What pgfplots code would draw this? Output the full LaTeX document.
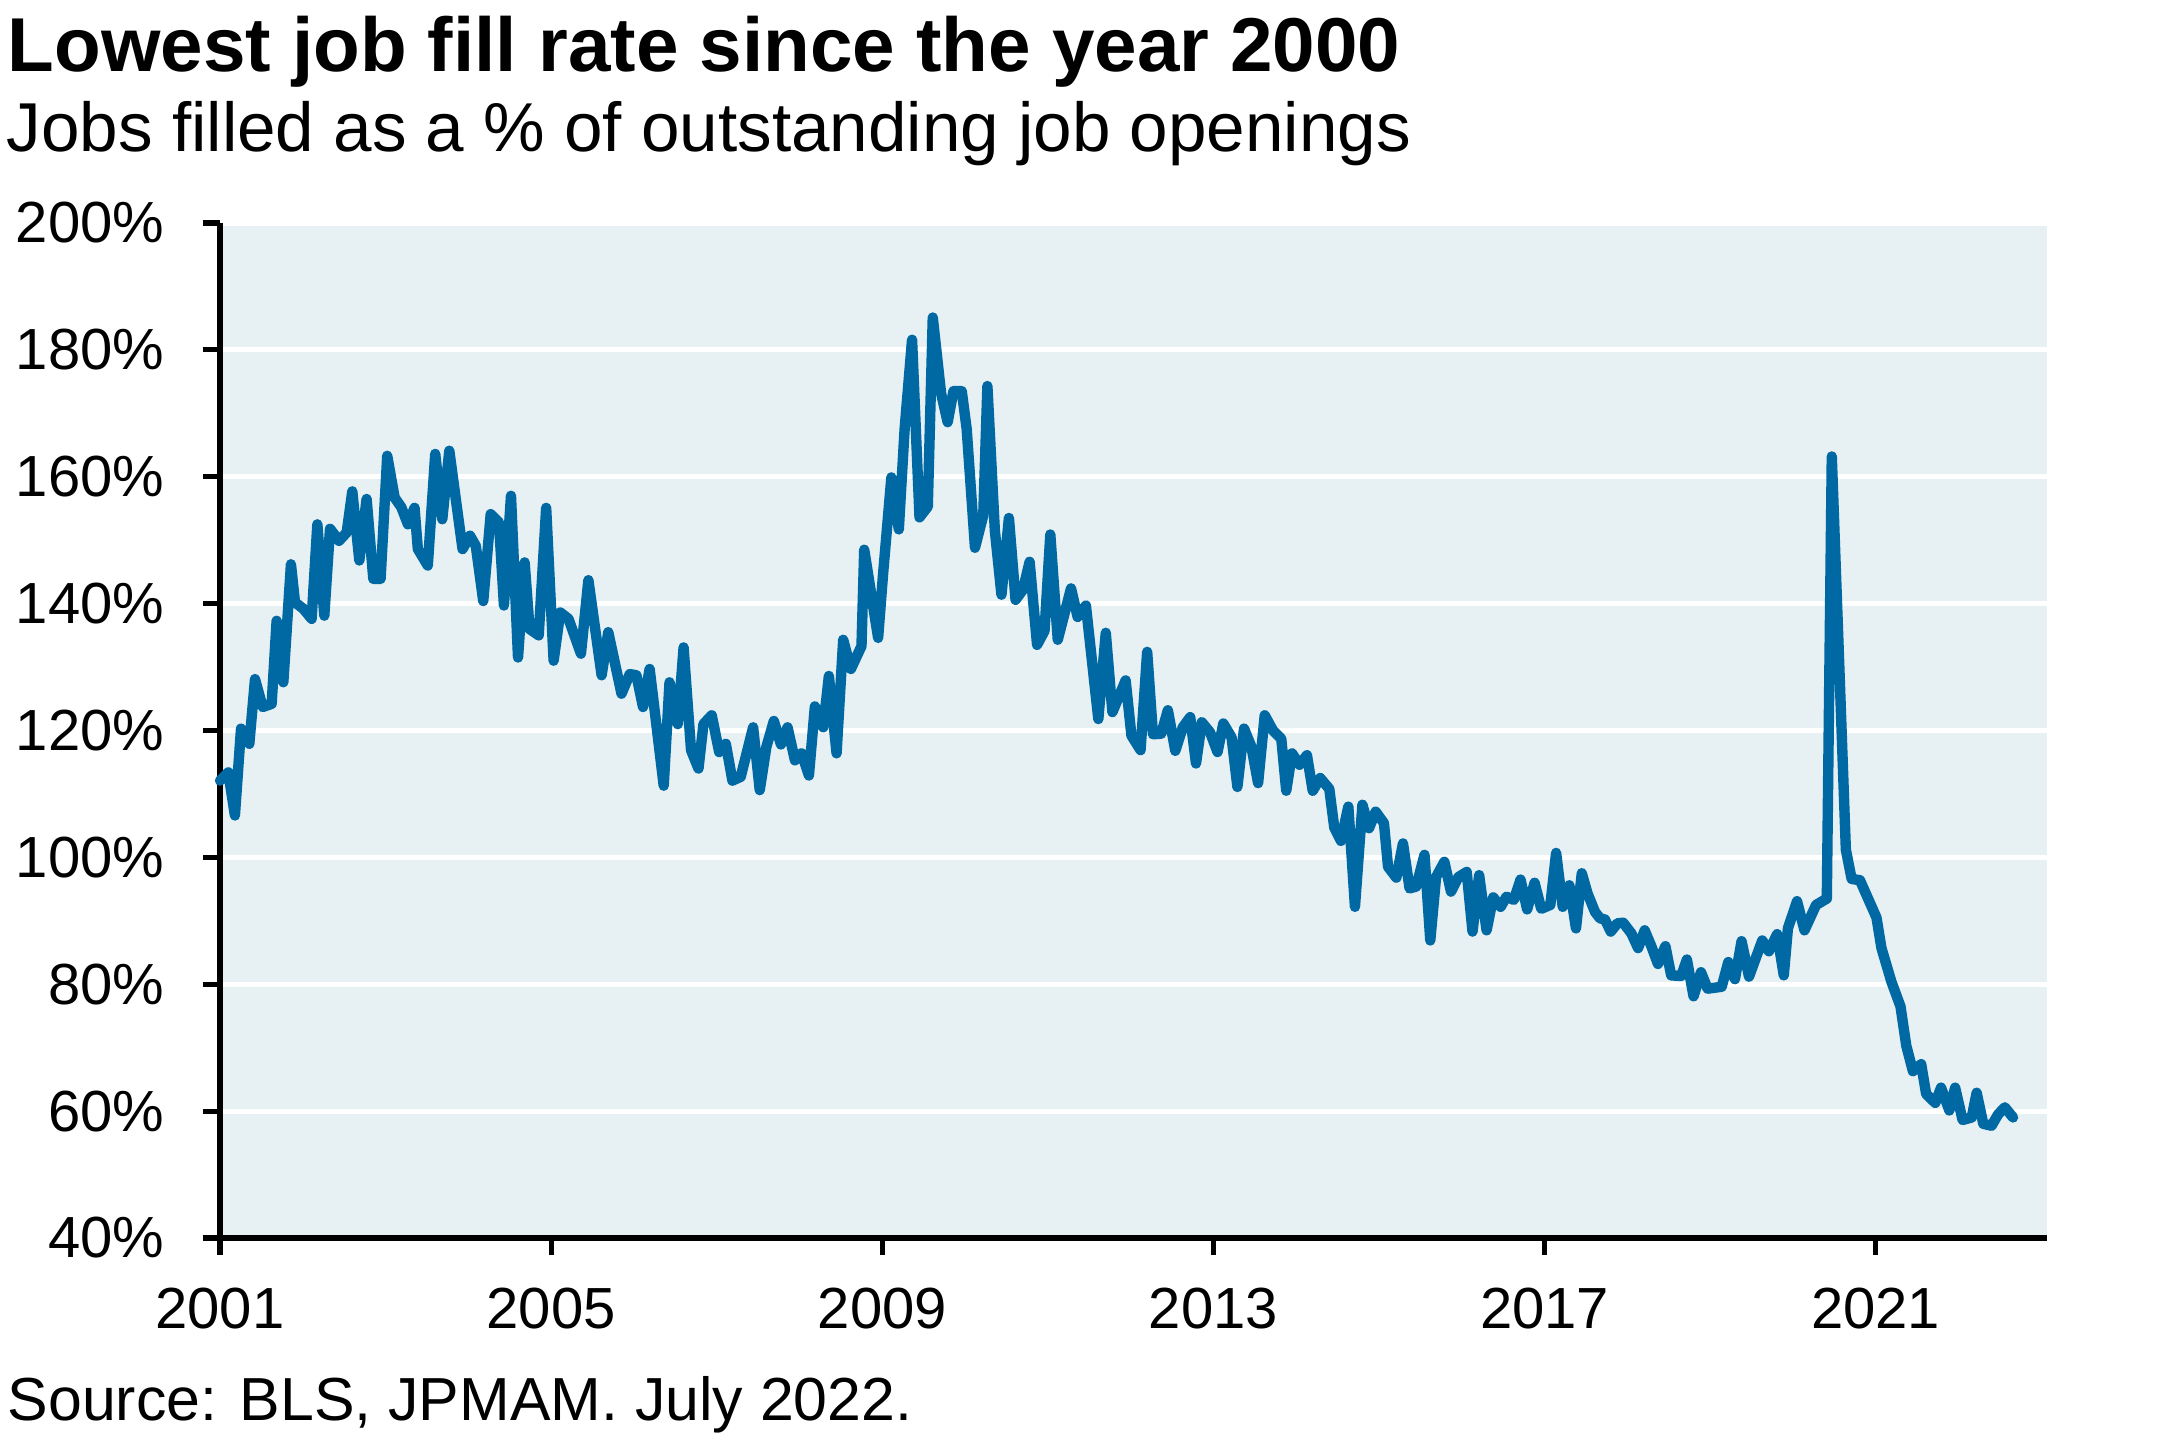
\documentclass[border=0pt]{standalone}
\usepackage{pgfplots}
\pgfplotsset{compat=1.18}
\usepackage{fontspec}
\setmainfont{Liberation Sans}

\definecolor{jpblue}{RGB}{0,104,163}
\definecolor{panel}{RGB}{231,240,243}

\begin{document}
\begin{tikzpicture}
\useasboundingbox (-55bp,-50.5bp) rectangle (485.5bp,309.5bp);
\begin{axis}[
    at={(0,0)}, anchor=origin,
    scale only axis,
    width=456.75bp, height=253.75bp,
    xmin=2001, xmax=2023.07,
    ymin=40, ymax=200,
    axis x line=bottom, axis y line=left,
    axis line style={line width=1.3bp, black, -},
    axis background/.style={fill=panel},
    ymajorgrids,
    grid style={white, line width=1.3bp},
    xtick={2001,2005,2009,2013,2017,2021},
    xticklabels={2001,2005,2009,2013,2017,2021},
    ytick={40,60,...,200},
    yticklabel={\pgfmathprintnumber{\tick}\%},
    /pgf/number format/assume math mode=true,
    tick align=outside,
    major tick length=4.25bp,
    tick style={line width=1.3bp, black},
    ticklabel style={font=\fontsize{14.5bp}{17bp}\selectfont, inner sep=0pt},
    yticklabel style={anchor=east, xshift=-9.5bp},
    xticklabel style={anchor=north, yshift=-8bp},
    clip=false,
]
\addplot[jpblue, line width=2.6bp, line join=round, line cap=round] coordinates {
(2001.00,112.1) (2001.10,113.4) (2001.18,106.6) (2001.254,120.3) (2001.354,117.9)
(2001.423,128.1) (2001.515,123.7) (2001.624,124.2) (2001.684,137.3) (2001.765,127.6)
(2001.857,146.2) (2001.906,140.2) (2002.006,139.2) (2002.107,137.6) (2002.176,152.5)
(2002.26,138.1) (2002.329,151.8) (2002.437,149.9) (2002.53,151.2) (2002.598,157.7)
(2002.683,146.8) (2002.771,156.5) (2002.852,143.9) (2002.94,143.9) (2003.02,163.3)
(2003.11,156.7) (2003.19,155.2) (2003.27,152.5) (2003.35,155.1) (2003.39,148.6)
(2003.51,146.0) (2003.60,163.6) (2003.685,153.3) (2003.77,164.1) (2003.846,156.7)
(2003.93,148.6) (2004.02,150.7) (2004.09,149.1) (2004.18,140.4) (2004.27,154.1)
(2004.37,152.8) (2004.43,139.7) (2004.515,157.0) (2004.60,131.5) (2004.68,146.5)
(2004.74,136.0) (2004.85,135.0) (2004.94,155.1) (2005.03,131.0) (2005.11,138.6)
(2005.21,137.6) (2005.36,132.1) (2005.45,143.7) (2005.61,128.7) (2005.69,135.5)
(2005.85,125.8) (2005.95,128.9) (2006.03,128.7) (2006.11,123.7) (2006.19,129.7)
(2006.36,111.3) (2006.43,127.6) (2006.53,121.0) (2006.60,133.1) (2006.69,116.9)
(2006.78,114.0) (2006.84,121.0) (2006.94,122.4) (2007.03,116.6) (2007.11,117.9)
(2007.19,112.1) (2007.29,112.7) (2007.44,120.5) (2007.52,110.6) (2007.60,117.4)
(2007.69,121.5) (2007.776,117.8) (2007.856,120.5) (2007.945,115.3) (2008.025,116.4)
(2008.114,112.9) (2008.186,123.8) (2008.287,120.5) (2008.355,128.6) (2008.448,116.4)
(2008.528,134.3) (2008.621,129.7) (2008.749,133.3) (2008.782,148.5) (2008.95,134.6)
(2009.01,144.7) (2009.11,159.9) (2009.20,151.7) (2009.27,167.5) (2009.36,181.6)
(2009.45,153.6) (2009.55,155.3) (2009.61,185.1) (2009.71,173.2) (2009.79,168.6)
(2009.86,173.5) (2009.96,173.5) (2010.02,167.5) (2010.12,148.8) (2010.22,153.9)
(2010.27,174.3) (2010.36,151.5) (2010.44,141.4) (2010.53,153.5) (2010.61,140.6)
(2010.70,142.2) (2010.78,146.6) (2010.87,133.5) (2010.96,135.7) (2011.03,150.9)
(2011.12,134.3) (2011.28,142.4) (2011.36,137.9) (2011.46,139.7) (2011.61,121.8)
(2011.70,135.4) (2011.78,122.9) (2011.94,127.9) (2012.01,119.2) (2012.12,116.9)
(2012.20,132.4) (2012.27,119.4) (2012.37,119.5) (2012.45,123.2) (2012.54,116.8)
(2012.63,120.5) (2012.72,122.1) (2012.79,114.8) (2012.86,121.3) (2012.96,119.7)
(2013.05,116.6) (2013.12,121.1) (2013.22,118.9) (2013.29,111.1) (2013.37,120.3)
(2013.46,117.4) (2013.54,111.7) (2013.62,122.4) (2013.72,120.0) (2013.82,118.7)
(2013.88,110.5) (2013.95,116.4) (2014.04,114.6) (2014.13,116.1) (2014.20,110.5)
(2014.29,112.5) (2014.40,110.8) (2014.46,104.7) (2014.54,102.6) (2014.63,108.0)
(2014.71,92.2) (2014.80,108.3) (2014.88,104.6) (2014.96,107.2) (2015.06,105.4)
(2015.11,98.5) (2015.21,96.8) (2015.29,102.2) (2015.37,95.1) (2015.45,95.4)
(2015.55,100.4) (2015.62,86.9) (2015.69,96.9) (2015.79,99.3) (2015.87,94.6)
(2015.96,96.9) (2016.06,97.7) (2016.13,88.3) (2016.21,97.2) (2016.30,88.5)
(2016.38,93.7) (2016.47,92.2) (2016.54,93.8) (2016.63,93.3) (2016.71,96.5)
(2016.79,91.8) (2016.88,96.0) (2016.96,91.9) (2017.07,92.5) (2017.14,100.7)
(2017.22,92.2) (2017.30,95.6) (2017.38,88.8) (2017.45,97.5) (2017.52,94.3)
(2017.61,91.4) (2017.67,90.4) (2017.73,90.2) (2017.80,88.3) (2017.88,89.6)
(2017.95,89.7) (2018.05,88.0) (2018.13,85.7) (2018.21,88.5) (2018.29,86.0)
(2018.37,83.2) (2018.46,86.0) (2018.53,81.4) (2018.65,81.3) (2018.72,83.9)
(2018.80,78.1) (2018.89,81.9) (2018.97,79.3) (2019.14,79.6) (2019.22,83.5)
(2019.30,80.8) (2019.38,86.8) (2019.47,81.2) (2019.63,86.9) (2019.71,85.2)
(2019.81,87.9) (2019.89,81.4) (2019.94,88.8) (2020.05,93.1) (2020.14,88.5)
(2020.28,92.5) (2020.41,93.5) (2020.47,163.2) (2020.64,101.2) (2020.71,96.6)
(2020.81,96.4) (2021.01,90.5) (2021.07,85.7) (2021.19,80.4) (2021.30,76.5)
(2021.37,70.3) (2021.45,66.3) (2021.55,67.4) (2021.61,62.7) (2021.72,61.3)
(2021.79,63.7) (2021.89,60.1) (2021.96,63.7) (2022.05,58.6) (2022.16,59.0)
(2022.22,62.9) (2022.30,58.0) (2022.40,57.7) (2022.48,59.5) (2022.56,60.6)
(2022.66,59.0)
};
\end{axis}
\node[anchor=base west, inner sep=0pt, font=\fontsize{19.1bp}{22bp}\selectfont\bfseries] at (-53.25bp,291.6bp) {Lowest job fill rate since the year 2000};
\node[anchor=base west, inner sep=0pt, font=\fontsize{17.3bp}{20bp}\selectfont] at (-53.5bp,271.5bp) {Jobs filled as a \% of outstanding job openings};
\node[anchor=base west, inner sep=0pt, font=\fontsize{15.2bp}{18bp}\selectfont] at (-53.25bp,-45.5bp) {Source: BLS, JPMAM. July 2022.};
\end{tikzpicture}
\end{document}
